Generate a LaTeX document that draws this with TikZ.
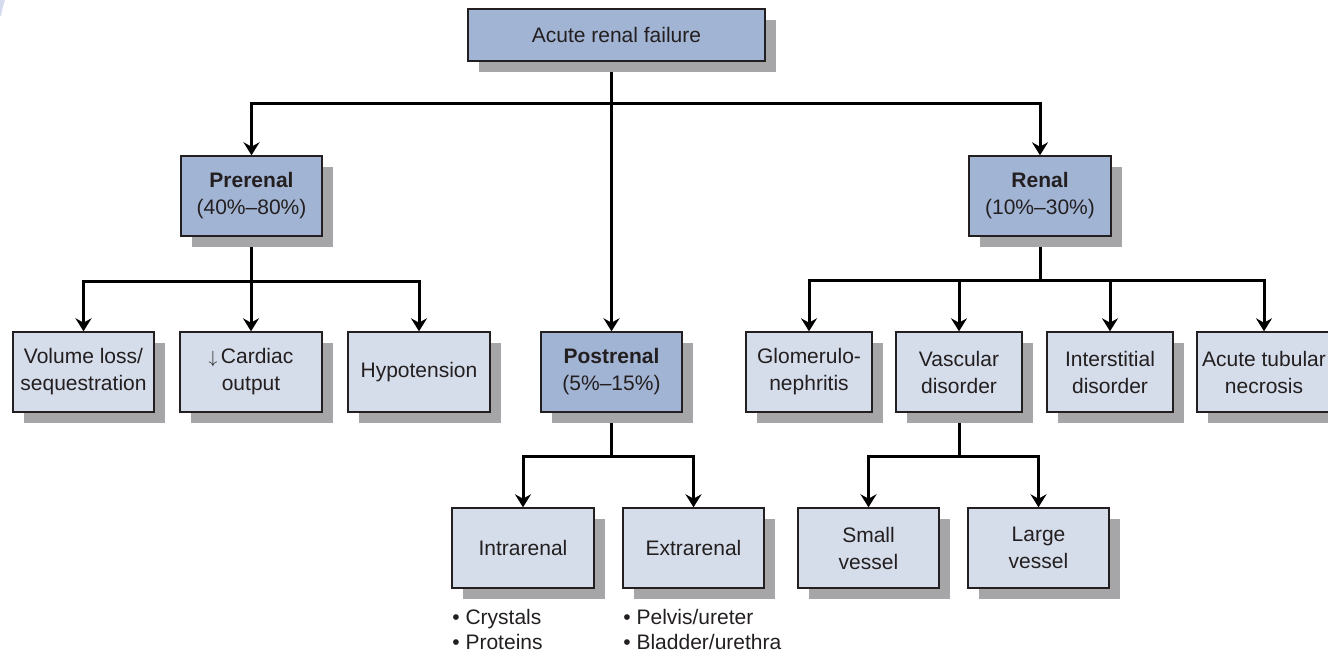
\documentclass[tikz,border=0pt]{standalone}
\usepackage{fontspec}
\setmainfont{Liberation Sans}
\usetikzlibrary{arrows.meta,shadows,calc}
\definecolor{darkfill}{RGB}{162,180,212}
\definecolor{lightfill}{RGB}{213,220,234}
\definecolor{shgray}{RGB}{166,166,169}
\definecolor{txt}{RGB}{35,31,32}
\definecolor{cornerc}{RGB}{214,218,238}
\pgfdeclarelayer{bg}
\pgfsetlayers{bg,main}
\tikzset{
  box/.style={draw=txt, line width=0.7pt, rectangle, minimum height=40pt,
    inner sep=1pt, align=center, text=txt,
    font=\fontsize{10.5}{13.5}\selectfont,
    drop shadow={shadow xshift=5.5pt, shadow yshift=-5.5pt, fill=shgray, opacity=1}},
  mainbox/.style={box, fill=darkfill},
  subbox/.style={box, fill=lightfill},
  conn/.style={line width=1.5pt, black},
  arr/.style={conn, -{Stealth[length=6.5pt,width=8pt,inset=2.2pt]}},
  listtext/.style={anchor=north west, inner sep=0pt, align=left, text=txt,
    font=\fontsize{10.5}{12.5}\selectfont}
}
\begin{document}
\begin{tikzpicture}[x=0.5pt,y=-0.5pt]
\useasboundingbox (0,0) rectangle (1328,652);
\fill[cornerc] (0,0) -- (5,0) .. controls (3,6) .. (1,16) -- (0,16) -- cycle;

\node[mainbox, minimum width=148.5pt, minimum height=26pt] (top) at (616.5,35) {Acute renal failure};
\node[mainbox, minimum width=70.5pt] (pre) at (251.5,196) {\textbf{Prerenal}\\(40\%–80\%)};
\node[mainbox, minimum width=71pt] (ren) at (1040,196) {\textbf{Renal}\\(10\%–30\%)};
\node[mainbox, minimum width=70.5pt] (post) at (611.5,372) {\textbf{Postrenal}\\(5\%–15\%)};

\node[subbox, minimum width=70.5pt] (vol) at (83.5,372) {Volume loss/\\sequestration};
\node[subbox, minimum width=71pt] (card) at (251,372) {\scalebox{0.8}{$\downarrow$}\,Cardiac\\output};
\node[subbox, minimum width=71pt] (hyp) at (419,372) {Hypotension};

\node[subbox, minimum width=63pt] (glom) at (809,372) {Glomerulo-\\nephritis};
\node[subbox, minimum width=63pt] (vasc) at (959,372) {Vascular\\disorder};
\node[subbox, minimum width=63pt] (inter) at (1110,372) {Interstitial\\disorder};
\node[subbox, minimum width=67pt] (atn) at (1264,372) {Acute tubular\\necrosis};

\node[subbox, minimum width=71pt] (intra) at (523,548) {Intrarenal};
\node[subbox, minimum width=70.5pt] (extra) at (693.5,548) {Extrarenal};
\node[subbox, minimum width=70.5pt] (small) at (868.5,548) {Small\\vessel};
\node[subbox, minimum width=70.5pt] (large) at (1038.5,548) {Large\\vessel};

\node[listtext] (intralist) at (452,609) {• Crystals\\• Proteins};
\node[listtext] (extralist) at (623,609) {• Pelvis/ureter\\• Bladder/urethra};

\begin{pgfonlayer}{bg}
\draw[arr] (top.south -| post.north) -- (post.north);
\draw[arr] (top.south -| post.north) ++(0,42) -| (pre.north);
\draw[arr] (top.south -| post.north) ++(0,42) -| (ren.north);

\draw[conn] (pre.south) -- ++(0,45);
\draw[arr] (pre.south) ++(0,45) -| (vol.north);
\draw[arr] (pre.south) ++(0,45) -| (card.north);
\draw[arr] (pre.south) ++(0,45) -| (hyp.north);

\draw[conn] (ren.south) -- ++(0,44);
\draw[arr] (ren.south) ++(0,44) -| (glom.north);
\draw[arr] (ren.south) ++(0,44) -| (vasc.north);
\draw[arr] (ren.south) ++(0,44) -| (inter.north);
\draw[arr] (ren.south) ++(0,44) -| (atn.north);

\draw[conn] (post.south) -- ++(0,44);
\draw[arr] (post.south) ++(0,44) -| (intra.north);
\draw[arr] (post.south) ++(0,44) -| (extra.north);

\draw[conn] (vasc.south) -- ++(0,44);
\draw[arr] (vasc.south) ++(0,44) -| (small.north);
\draw[arr] (vasc.south) ++(0,44) -| (large.north);
\end{pgfonlayer}
\end{tikzpicture}
\end{document}
